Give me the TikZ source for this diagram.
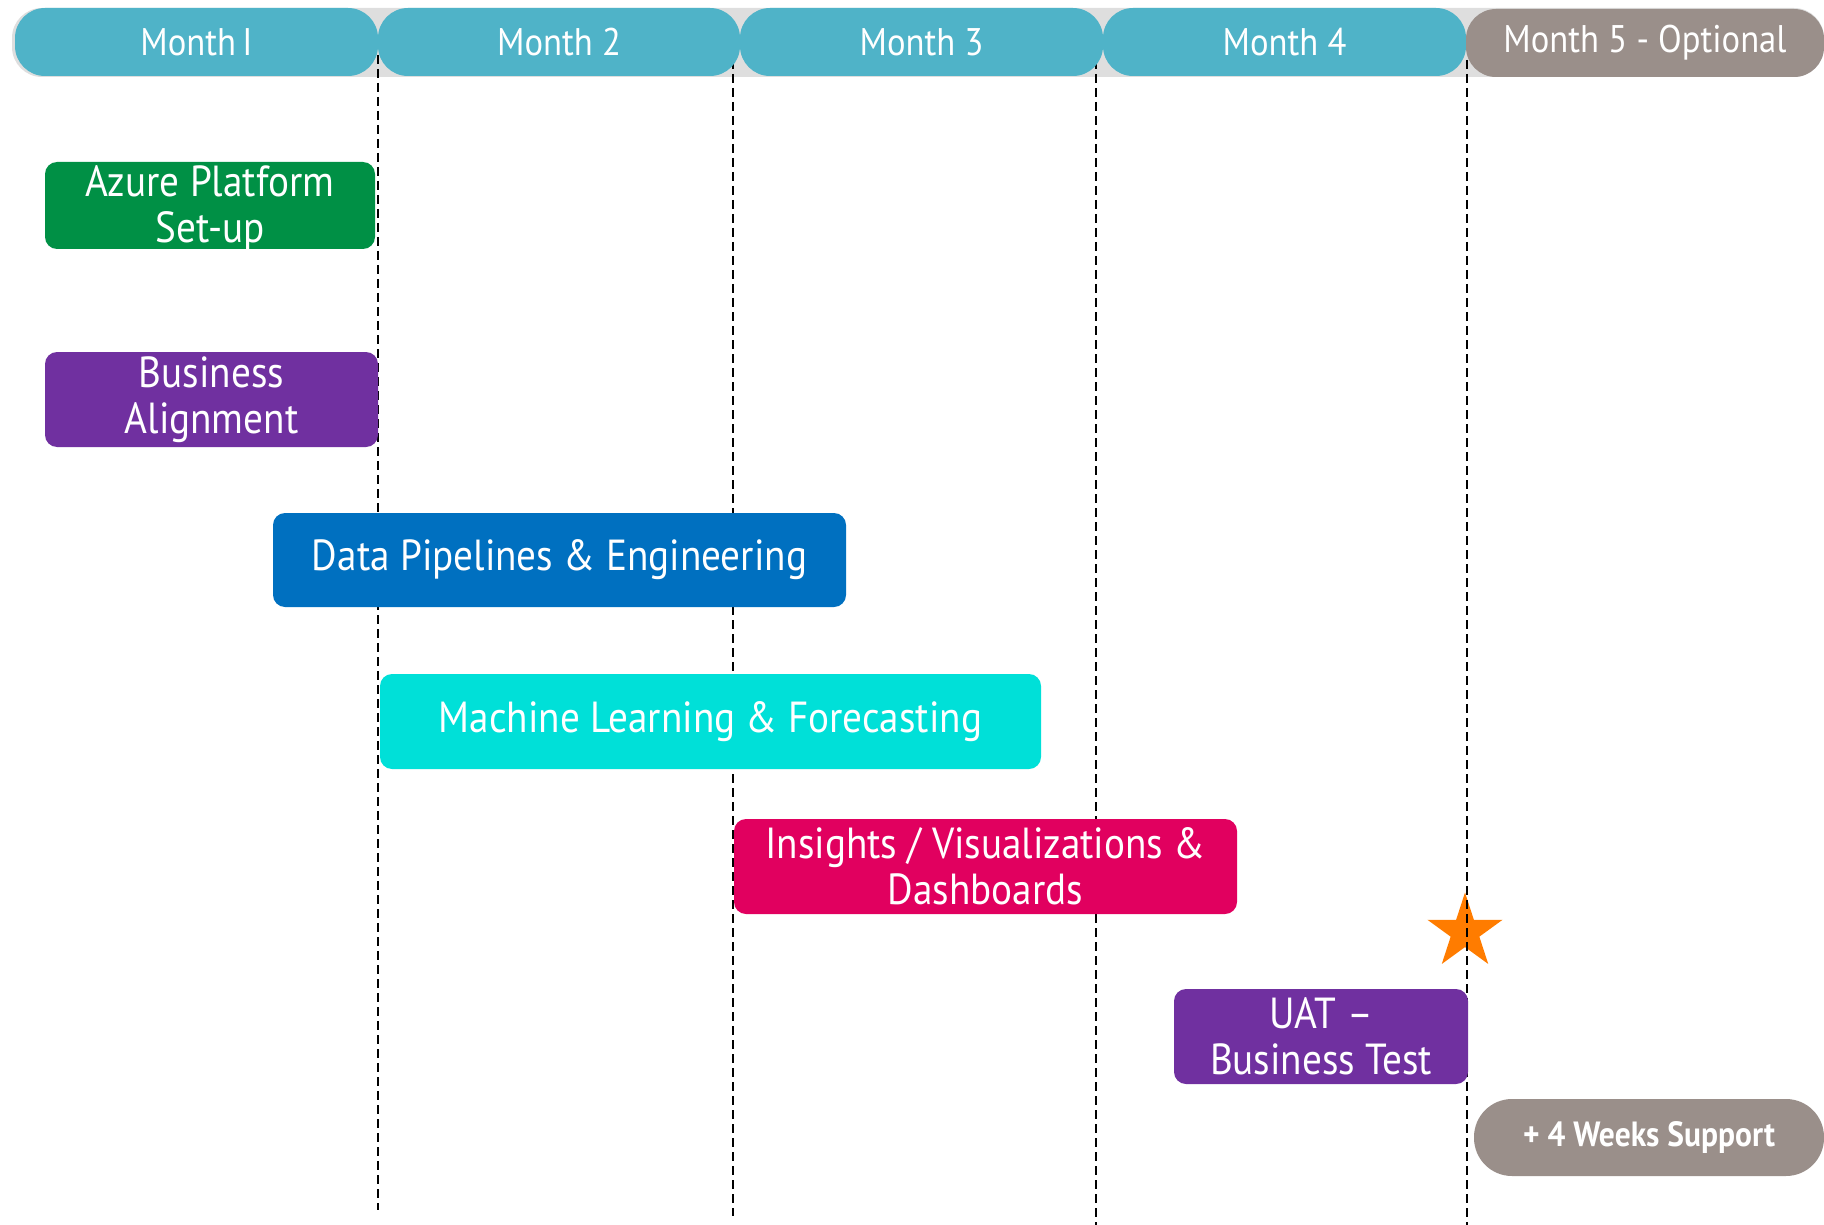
\documentclass[tikz,border=0pt]{standalone}
\usepackage{fontspec}
\setmainfont[FakeStretch=0.9]{PT Sans}
\usetikzlibrary{shapes.geometric}
\definecolor{barbg}{HTML}{DEDEDE}
\definecolor{monthc}{HTML}{4FB3C8}
\definecolor{optc}{HTML}{9A8F8A}
\definecolor{azgreen}{HTML}{009045}
\definecolor{purp}{HTML}{7030A0}
\definecolor{blu}{HTML}{0070C0}
\definecolor{cyanb}{HTML}{00E0D8}
\definecolor{magb}{HTML}{E1005F}
\definecolor{orng}{HTML}{FF7C00}
\tikzset{
  monthpill/.style={fill=monthc, rounded corners=30pt, minimum height=68pt, text=white, inner sep=0pt, font=\fontsize{38.5}{40}\selectfont},
  taskbox/.style={rounded corners=12pt, text=white, align=center, inner sep=0pt, font=\fontsize{43.5}{46}\selectfont},
  tasktext/.style={text=white, align=center, inner sep=0pt, font=\fontsize{43.5}{46}\selectfont},
  divline/.style={line width=2.8pt, dash pattern=on 9pt off 5pt, black}
}
\begin{document}
\begin{tikzpicture}[x=1pt,y=-1pt]
\useasboundingbox (0,0) rectangle (1824,1225);
% header background bar
\fill[barbg, rounded corners=30pt] (12,8) rectangle (1824,77);
% star (under the dashed line)
\node[star, star points=5, star point ratio=2.618, fill=orng, inner sep=0pt, minimum size=79pt] (star) at (1465,932) {};
% dashed month dividers
\coordinate (d1a) at (378,55);  \coordinate (d1b) at (378,1210);
\coordinate (d2a) at (733,60);  \coordinate (d2b) at (733,1216);
\coordinate (d3a) at (1096,60); \coordinate (d3b) at (1096,1225);
\coordinate (d4a) at (1467,60); \coordinate (d4b) at (1467,1225);
\draw[divline] (d1a) -- (d1b);
\draw[divline] (d2a) -- (d2b);
\draw[divline] (d3a) -- (d3b);
\draw[divline] (d4a) -- (d4b);
% month pills
\node[monthpill, minimum width=363pt] (m1) at (196.5,42) {Month\,I};
\node[monthpill, minimum width=362pt] (m2) at (559,42) {Month 2};
\node[monthpill, minimum width=363pt] (m3) at (921.5,42) {Month 3};
\node[monthpill, minimum width=363pt] (m4) at (1284.5,42) {Month 4};
\node[monthpill, fill=optc, minimum width=358pt] (m5) at (1645,43) {\raisebox{-3pt}{Month 5 - Optional}};
% tasks
\node[taskbox, fill=azgreen, minimum width=330pt, minimum height=87pt,
      label={[tasktext, yshift=-3pt, name=azuretext]center:Azure Platform\\Set-up}] (azure) at (210,205.5) {};
\node[taskbox, fill=purp, minimum width=333pt, minimum height=95pt] (biz) at (211.5,399.5) {Business\\Alignment};
\node[taskbox, fill=blu, minimum width=573pt, minimum height=94pt] (data) at (559.5,560) {Data Pipelines \& Engineering};
\node[taskbox, fill=cyanb, minimum width=661pt, minimum height=95pt] (ml) at (710.5,721.5) {Machine Learning \& Forecasting};
\node[taskbox, fill=magb, minimum width=503pt, minimum height=95pt] (ins) at (985.5,866.5) {Insights / Visualizations \&\\Dashboards};
\node[taskbox, fill=purp, minimum width=294pt, minimum height=95pt] (uat) at (1321,1036.5) {UAT –\\Business Test};
\node[taskbox, fill=optc, rounded corners=38pt, minimum width=350pt, minimum height=77pt, font=\fontsize{35}{37}\selectfont\bfseries] (sup) at (1649,1137.5) {+ 4 Weeks Support};
\end{tikzpicture}
\end{document}
